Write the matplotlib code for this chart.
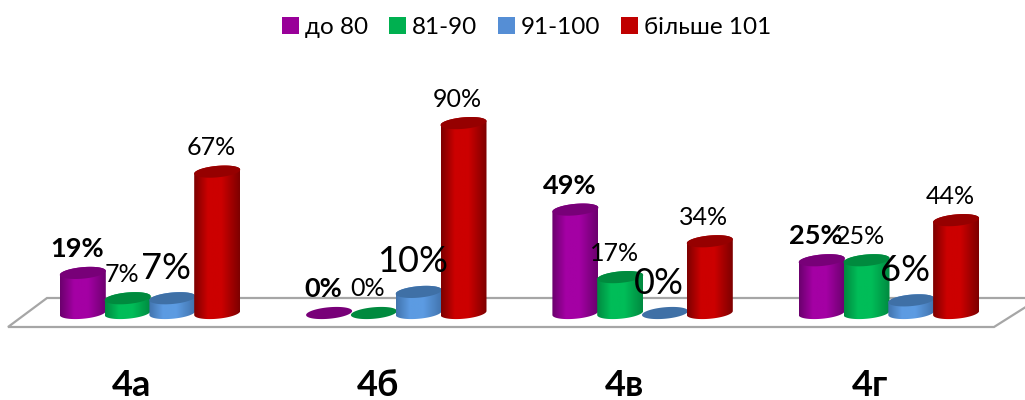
#!/usr/bin/env python3
"""3D-looking cylinder bars, one group per class, share of pupils by range."""
import numpy as np
import matplotlib
matplotlib.use("Agg")
import matplotlib.pyplot as plt
from matplotlib.colors import LinearSegmentedColormap
from matplotlib.patches import Polygon, Patch

plt.rcParams["font.family"] = ["Lato", "Open Sans", "DejaVu Sans"]

categories = ["4а", "4б", "4в", "4г"]
series_names = ["до 80", "81-90", "91-100", "більше 101"]
do_80 = [19, 0, 49, 25]
r81_90 = [7, 0, 17, 25]
r91_100 = [7, 10, 0, 6]
over_101 = [67, 90, 34, 44]
series = [do_80, r81_90, r91_100, over_101]

# edge, centre, top-cap, legend
COLORS = [("#6c006e", "#a400a4", "#780078", "#990099"),
          ("#008a40", "#00bd58", "#008a3e", "#00b050"),
          ("#4274ae", "#5c9be2", "#3f70a6", "#558ed5"),
          ("#7e0000", "#cc0000", "#960000", "#c00000")]
LABEL_STYLE = [dict(fontsize=19.5, fontweight="bold"), dict(fontsize=18),
               dict(fontsize=26), dict(fontsize=18)]
LABEL_GAP = [24, 24, 30, 24]  # px above the cap

# pixel layout of the picture
PX_GROUP0, PX_GROUP = 150.0, 246.3
PX_BASE, PX_PER_PCT = 313.0, 2.11
PX_STEP, PX_WIDTH, PX_CAP, PX_TILT = 44.8, 46.0, 11.5, 2.0


def dx(px):
    return (px - PX_GROUP0) / PX_GROUP


def dy(px):
    return (PX_BASE - px) / PX_PER_PCT


def ellipse(cx, v, t):
    # cx, v in data units; tilted so the right side sits a bit higher
    x = cx + (PX_WIDTH / 2 / PX_GROUP) * np.cos(t)
    y = v + (PX_CAP / 2 * np.sin(t) + PX_TILT * np.cos(t)) / PX_PER_PCT
    return np.column_stack([x, y])


fig = plt.figure(figsize=(10.25, 4), dpi=100)
ax = fig.add_axes([0, 0, 1, 1])
ax.set_axis_off()

# floor of the 3D plot
floor = [(8, 327), (994, 327), (1040, 298), (47, 298)]
ax.add_patch(Polygon([(dx(a), dy(b)) for a, b in floor], closed=True, fc="white",
                     ec="#a6a6a6", lw=1.6, zorder=1))

t = np.linspace(0, 2 * np.pi, 80)
lower = np.linspace(np.pi, 2 * np.pi, 40)
upper = np.linspace(0, np.pi, 40)
order = 2
for i in range(len(categories)):
    for s, vals in enumerate(series):
        v = vals[i]
        cx = i + (s - 1.5) * PX_STEP / PX_GROUP
        edge, mid, cap, _ = COLORS[s]
        if v > 0:
            cmap = LinearSegmentedColormap.from_list(
                "c", [(0, edge), (0.3, mid), (0.6, mid), (1, edge)])
            outline = np.vstack([ellipse(cx, 0, lower), ellipse(cx, v, upper)])
            body = Polygon(outline, closed=True, fc="none", ec="none", transform=ax.transData)
            ax.add_patch(body)
            half = PX_WIDTH / 2 / PX_GROUP
            img = ax.imshow(np.linspace(0, 1, 64)[None, :], cmap=cmap, aspect="auto",
                            extent=(cx - half, cx + half, -8, v + 8), zorder=order)
            img.set_clip_path(body)
        ax.add_patch(Polygon(ellipse(cx, v, t), closed=True, fc=cap, ec="none", zorder=order + 0.5))
        order += 1
        ax.annotate(f"{v}%", (cx, v), xytext=(-6 * 0.72, LABEL_GAP[s] * 0.72),
                    textcoords="offset points", ha="center", va="center", color="black",
                    zorder=200, **LABEL_STYLE[s])
    ax.text(i - 0.075, dy(385), categories[i], ha="center", va="center",
            fontsize=26, fontweight="bold", color="black", zorder=200)

ax.set_xlim(dx(0), dx(1025))
ax.set_ylim(dy(400), dy(0))

handles = [Patch(fc=c[3], ec="none") for c in COLORS]
ax.legend(handles, series_names, loc="upper center", bbox_to_anchor=(0.5137, 1.0), ncol=4,
          frameon=False, fontsize=17.5, handlelength=0.7, handleheight=0.7, handletextpad=0.25,
          columnspacing=0.85, borderaxespad=0.3)

fig.savefig("out.png", dpi=100)
